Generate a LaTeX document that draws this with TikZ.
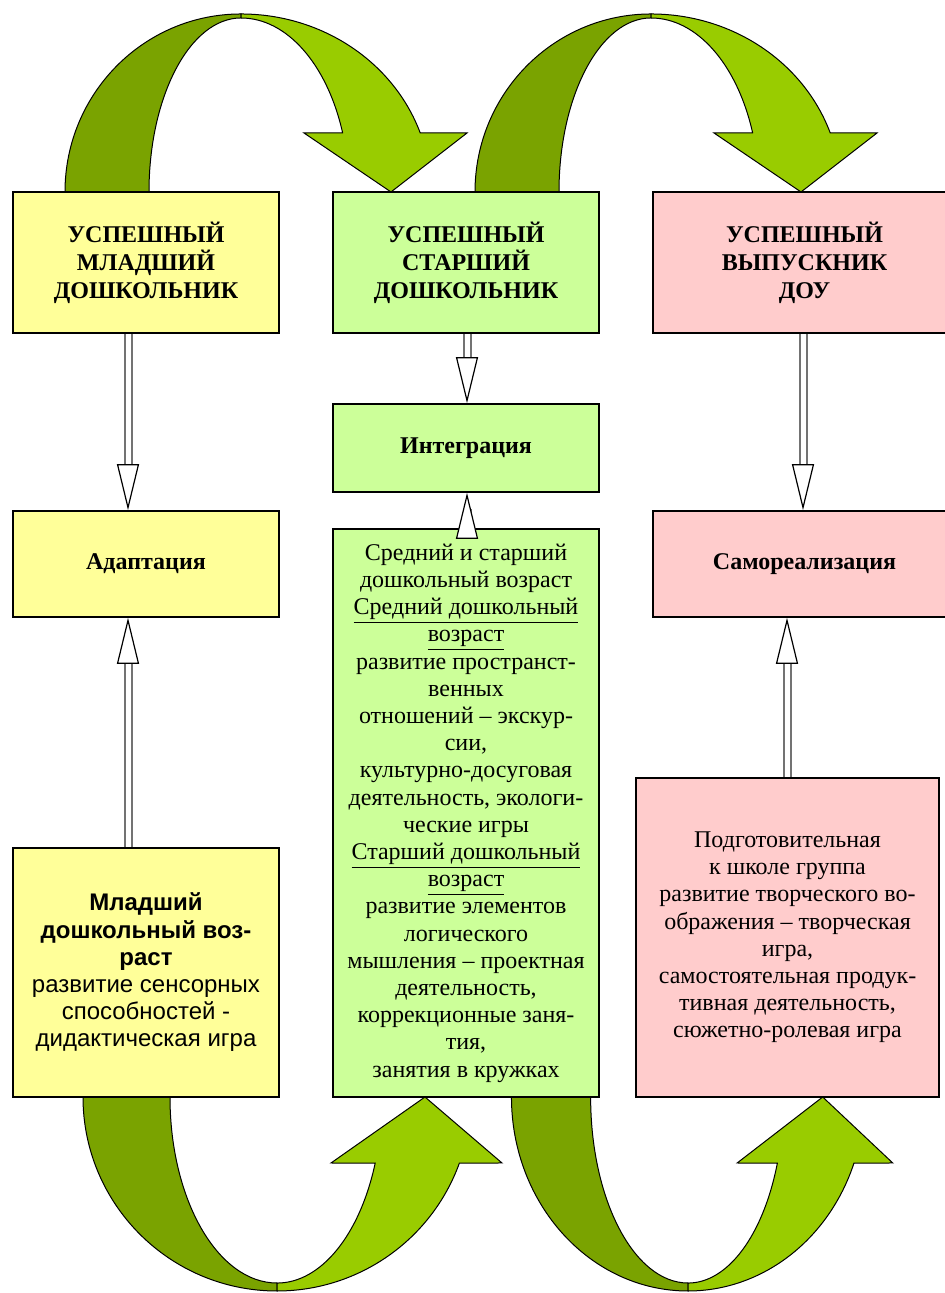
\documentclass[tikz,border=0pt]{standalone}
\usepackage{fontspec}
\setmainfont{Liberation Serif}
\newfontfamily\arialfont{Liberation Sans}
\usepackage{xcolor}
\usepackage{tikz}
\usetikzlibrary{arrows.meta, calc, positioning}
\definecolor{boxyellow}{HTML}{FFFF99}
\definecolor{boxgreen}{HTML}{CCFF99}
\definecolor{boxpink}{HTML}{FFCCCC}
\definecolor{arcdarkgreen}{HTML}{7AA300}
\definecolor{arclightgreen}{HTML}{99CC00}

% flecha curva de arriba (centro en la base de la cola)
\newcommand{\toparrow}{%
    \filldraw[arcdark] (-176,0) arc[start angle=180, end angle=90, x radius=176, y radius=178]
        -- (0,174) arc[start angle=90, end angle=180, x radius=92, y radius=174] -- cycle;
    \filldraw[arclight] (0,178) arc[start angle=90, end angle=19.4, x radius=190, y radius=178]
        -- (226,59) -- (150,0) -- (63,59) -- (101.6,59.2)
        arc[start angle=19.9, end angle=90, x radius=108, y radius=174] -- cycle;
}
% flecha curva de abajo
\newcommand{\bottomarrow}{%
    \filldraw[arcdark] (-194,0) arc[start angle=180, end angle=270, x radius=194, y radius=194]
        -- (0,-186) arc[start angle=270, end angle=180, x radius=107, y radius=186] -- cycle;
    \filldraw[arclight] (0,-194) arc[start angle=270, end angle=340.1, x radius=194, y radius=194]
        -- (225,-66) -- (148,0) -- (54,-66) -- (98.2,-66.1)
        arc[start angle=339.2, end angle=270, x radius=105, y radius=186] -- cycle;
}

\begin{document}
\begin{tikzpicture}[x=0.5pt, y=0.5pt,
    box/.style={draw=black, line width=0.8pt, align=center, inner sep=1pt,
        font=\fontsize{12}{13.6}\selectfont},
    title/.style={box, minimum height=70.5pt, font=\bfseries\fontsize{12}{14}\selectfont},
    stage/.style={box, minimum height=53pt, font=\bfseries\fontsize{12}{14}\selectfont},
    arcdark/.style={fill=arcdarkgreen, draw=black, line width=0.5pt},
    arclight/.style={fill=arclightgreen, draw=black, line width=0.5pt},
    shaft/.style={draw=black!55, line width=1pt, double=white, double distance=2.5pt, shorten >=22pt},
    hhead/.style={draw=black, line width=0.6pt, -{Triangle[fill=white, length=23pt, width=11pt]}}]
    \useasboundingbox (0,0) rectangle (945,1293);
    \clip (0,0) rectangle (945,1293);

    % flechas verdes
    \begin{scope}[shift={(241,1101)}] \toparrow \end{scope}
    \begin{scope}[shift={(651,1101)}] \toparrow \end{scope}
    \begin{scope}[shift={(277,196)}] \bottomarrow \end{scope}
    \begin{scope}[shift={(688,196)}, xscale=0.91] \bottomarrow \end{scope}

    % cajas
    \node[title, fill=boxyellow, minimum width=133pt] (top1) at (146,1030.5) {УСПЕШНЫЙ\\МЛАДШИЙ\\ДОШКОЛЬНИК};
    \node[title, fill=boxgreen, minimum width=133pt] (top2) at (466,1030.5) {УСПЕШНЫЙ\\СТАРШИЙ\\ДОШКОЛЬНИК};
    \node[title, fill=boxpink, minimum width=151.5pt] (top3) at (804.5,1030.5) {УСПЕШНЫЙ\\ВЫПУСКНИК\\ДОУ};

    \node[stage, fill=boxyellow, minimum width=133pt] (adapt) at (146,729) {Адаптация};
    \node[stage, fill=boxgreen, minimum width=133pt, minimum height=44pt] (integ) at (466,845) {Интеграция};
    \node[stage, fill=boxpink, minimum width=151.5pt] (samo) at (804.5,729) {Самореализация};

    \node[box, fill=boxyellow, minimum width=133pt, minimum height=124.5pt,
        font=\arialfont\fontsize{12}{13.6}\selectfont] (mlad) at (146,320.5)
        {\textbf{Младший}\\\textbf{дошкольный воз-}\\\textbf{раст}\\развитие сенсорных\\способностей -\\дидактическая игра};
    \node[box, fill=boxgreen, minimum width=133pt, minimum height=284pt] (sred) at (466,480)
        {Средний и старший\\дошкольный возраст\\\underline{Средний дошкольный}\\\underline{возраст}\\развитие пространст-\\венных\\отношений – экскур-\\сии,\\культурно-досуговая\\деятельность, экологи-\\ческие игры\\\underline{Старший дошкольный}\\\underline{возраст}\\развитие элементов\\логического\\мышления – проектная\\деятельность,\\коррекционные заня-\\тия,\\занятия в кружках};
    \node[box, fill=boxpink, minimum width=151.5pt, minimum height=159.5pt] (podg) at (787.5,355.5)
        {Подготовительная\\к школе группа\\развитие творческого во-\\ображения – творческая\\игра,\\самостоятельная продук-\\тивная деятельность,\\сюжетно-ролевая игра};

    % flechas huecas
    \coordinate (la) at (128,0);
    \coordinate (ma) at (467,0);
    \coordinate (ra) at (803,0);
    \coordinate (rb) at (787,0);
    \draw[shaft] (top1.south -| la) -- (adapt.north -| la);
    \draw[hhead] ($(adapt.north -| la)+(0,46)$) -- (adapt.north -| la);
    \draw[shaft] (mlad.north -| la) -- (adapt.south -| la);
    \draw[hhead] ($(adapt.south -| la)+(0,-46)$) -- (adapt.south -| la);
    \draw[shaft, shorten >=10pt] (top2.south -| ma) -- (integ.north -| ma);
    \draw[hhead] ($(integ.north -| ma)+(0,22)$) -- (integ.north -| ma);
    \draw[shaft, shorten >=8pt] (sred.north -| ma) -- (integ.south -| ma);
    \draw[hhead] ($(integ.south -| ma)+(0,-18)$) -- (integ.south -| ma);
    \draw[shaft] (top3.south -| ra) -- (samo.north -| ra);
    \draw[hhead] ($(samo.north -| ra)+(0,46)$) -- (samo.north -| ra);
    \draw[shaft] (podg.north -| rb) -- (samo.south -| rb);
    \draw[hhead] ($(samo.south -| rb)+(0,-46)$) -- (samo.south -| rb);
\end{tikzpicture}
\end{document}
